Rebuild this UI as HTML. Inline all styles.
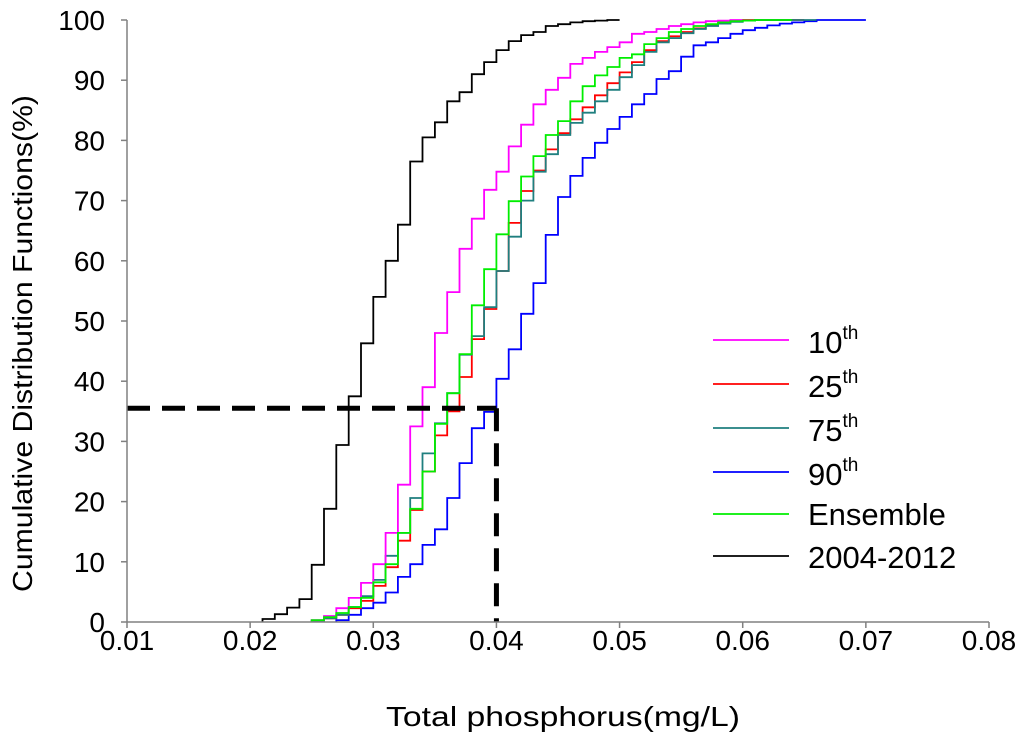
<!DOCTYPE html>
<html><head><meta charset="utf-8"><style>
body{margin:0;background:#fff;}
svg{display:block;font-family:"Liberation Sans",Arial,sans-serif;}
</style></head><body>
<svg id="chart" width="1024" height="734" viewBox="0 0 1024 734" xmlns="http://www.w3.org/2000/svg">
<g id="grid"></g><g id="series"></g><g id="axes"></g><g id="legend"></g>
</svg>
<script>
const xTicks=[0.01,0.02,0.03,0.04,0.05,0.06,0.07,0.08];
const xTickLabels=["0.01","0.02","0.03","0.04","0.05","0.06","0.07","0.08"];
const yTicks=[0,10,20,30,40,50,60,70,80,90,100];
const binStep=0.001;
const p10Start=0.025;
const p10Values=[0.3,1,2.3,4,6.5,9.6,14.8,22.8,32.5,39,48,54.8,62,67,71.8,74.8,79,82.6,86,88.4,90.4,92.7,93.7,94.7,95.5,96.3,97.7,98,98.5,99,99.3,99.6,99.8,99.9,100];
const p10End=0.060;
const p25Start=0.025;
const p25Values=[0.2,0.6,1.2,2.3,3.5,6,9.1,13.5,18.6,25,31,35,40.7,47,52,58.3,66.3,71.6,75,78.5,81.2,83.5,85.5,87.5,89.5,91.3,93,95,96.5,97.3,98,98.6,99.1,99.5,99.8,100];
const p25End=0.065;
const p75Start=0.025;
const p75Values=[0.2,0.6,1.2,2.5,4.3,7,11,14.8,20.6,28,33,38,44.4,47.5,52.3,58.3,64,70,74.8,77.7,80.9,82.9,84.6,86.5,88.4,90.5,92.5,94.7,96.3,97,97.8,98.5,99,99.4,99.7,99.9,100];
const p75End=0.066;
const p90Start=0.027;
const p90Values=[0.3,1.2,2.3,3.2,4.9,7.5,9.6,12.8,15.4,20.6,26.4,32.2,34.9,40.4,45.3,51.2,56.3,64.3,70.6,74.1,77.1,79.6,81.9,83.9,86,87.7,90.2,91.5,93.9,95.8,96.3,97,97.7,98.3,98.7,99.1,99.4,99.6,99.8,100];
const p90End=0.070;
const ensStart=0.025;
const ensValues=[0.3,0.8,1.5,2.5,4,6.6,9.6,14.8,18.8,25,32.9,38,44.5,52.6,58.6,64.4,69.9,74,77.4,80.9,83.2,86.5,89,90.8,92.2,93.7,94.3,96,97,98,98.5,99,99.3,99.6,99.8,99.9,100];
const ensEnd=0.064;
const obsStart=0.021;
const obsValues=[0.5,1.3,2.4,3.8,9.5,18.8,29.4,37.5,46.3,54,60,66,76.5,80.5,83,86.5,88,91,93,95,96.5,97.5,98,99,99.3,99.6,99.8,99.9,100];
const obsEnd=0.050;
const refX=[0.01,0.040];
const refY=[35.5,0];

const NS="http://www.w3.org/2000/svg";
const X0=127,X1=989,Y0=622,Y1=20;
const xs=v=>X0+(v-0.01)/(0.08-0.01)*(X1-X0);
const ys=v=>Y0-v/100*(Y0-Y1);
function mk(tag,attrs,parent,text){const e=document.createElementNS(NS,tag);for(const k in attrs)e.setAttribute(k,attrs[k]);if(text!==undefined)e.textContent=text;parent.appendChild(e);return e;}
const S=document.getElementById('series'),A=document.getElementById('axes'),L=document.getElementById('legend');

function stepPath(start,vals,end){
  let d="M"+xs(start).toFixed(1)+","+ys(0).toFixed(1);
  for(let i=0;i<vals.length;i++){
    const x=xs(start+i*binStep);
    d+=" L"+x.toFixed(1)+","+ys(vals[i]).toFixed(1);
    const nx=(i<vals.length-1)?xs(start+(i+1)*binStep):xs(end);
    d+=" L"+nx.toFixed(1)+","+ys(vals[i]).toFixed(1);
  }
  return d;
}
const series=[
 {n:'series-2004-2012',s:obsStart,v:obsValues,e:obsEnd,c:'#000000'},
 {n:'series-90th',s:p90Start,v:p90Values,e:p90End,c:'#0000ff'},
 {n:'series-25th',s:p25Start,v:p25Values,e:p25End,c:'#ff0000'},
 {n:'series-75th',s:p75Start,v:p75Values,e:p75End,c:'#1f7f7f'},
 {n:'series-10th',s:p10Start,v:p10Values,e:p10End,c:'#ff00ff'},
 {n:'series-ensemble',s:ensStart,v:ensValues,e:ensEnd,c:'#00ee00'}
];
series.forEach(o=>{
  const p=mk('path',{d:stepPath(o.s,o.v,o.e),fill:'none',stroke:o.c,'stroke-width':1.8},S);
  
  
});
const h=mk('line',{x1:xs(refX[0]),y1:ys(refY[0]),x2:xs(refX[1]),y2:ys(refY[0]),stroke:'#000','stroke-width':5,'stroke-dasharray':'23,12'},S);


const v=mk('line',{x1:xs(refX[1]),y1:ys(refY[0]),x2:xs(refX[1]),y2:ys(refY[1]),stroke:'#000','stroke-width':5,'stroke-dasharray':'23,12'},S);



const ax=mk('line',{x1:X0,y1:Y0,x2:X1,y2:Y0,stroke:'#808080','stroke-width':1.5},A);


const ay=mk('line',{x1:X0,y1:Y0,x2:X0,y2:Y1,stroke:'#808080','stroke-width':1.5},A);


xTicks.forEach((t,i)=>{
  mk('line',{x1:xs(t),y1:Y0,x2:xs(t),y2:Y0+6,stroke:'#808080','stroke-width':1.5},A);
  const tx=mk('text',{x:xs(t),y:Y0+28,'text-anchor':'middle','font-size':28,fill:'#000'},A,xTickLabels[i]);
  
  
});
yTicks.forEach(t=>{
  mk('line',{x1:X0-6,y1:ys(t),x2:X0,y2:ys(t),stroke:'#808080','stroke-width':1.5},A);
  const tx=mk('text',{x:X0-22,y:ys(t)+10,'text-anchor':'end','font-size':28,fill:'#000'},A,String(t));
  
  
});
const xt=mk('text',{x:386,y:726,'font-size':28,fill:'#000',textLength:354,lengthAdjust:'spacingAndGlyphs'},A,'Total phosphorus(mg/L)');


const yt=mk('text',{x:-592,y:32,'font-size':28,fill:'#000',textLength:497,lengthAdjust:'spacingAndGlyphs',transform:'rotate(-90)'},A,'Cumulative Distribution Functions(%)');



const legItems=[['10','th','#ff00ff',340,353],['25','th','#ff0000',384,397],['75','th','#1f7f7f',428,441],['90','th','#0000ff',472,485],['Ensemble','','#00ee00',514,525],['2004-2012','','#000000',556,568]];
legItems.forEach(it=>{
  const g=mk('g',{},L);
  
  
  mk('line',{x1:713,y1:it[3],x2:789,y2:it[3],stroke:it[2],'stroke-width':1.8},g);
  const t=mk('text',{x:808,y:it[4],'font-size':31,fill:'#000'},g,it[0]);
  if(it[1]){mk('tspan',{dy:-14,'font-size':19},t,it[1]);}
});
</script>
</body></html>
